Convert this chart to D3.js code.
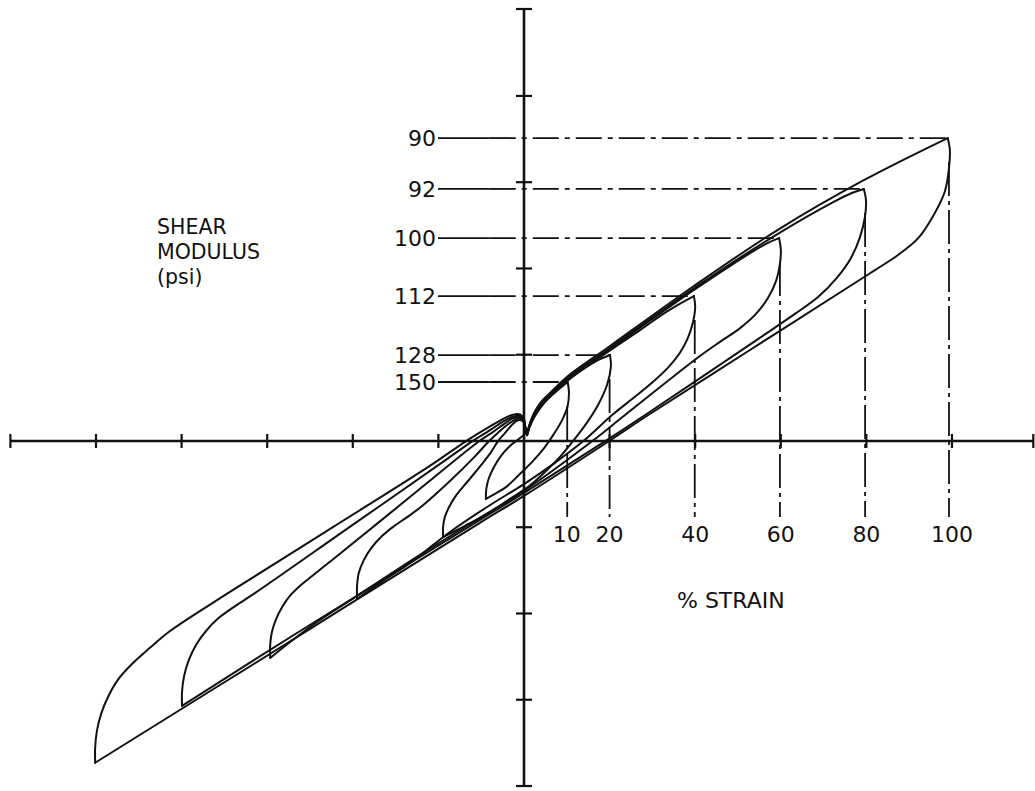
<!DOCTYPE html>
<html>
<head>
<meta charset="utf-8">
<script src="https://cdn.jsdelivr.net/npm/d3@7"></script>
<style>
  html, body { margin: 0; padding: 0; background: #fff; }
  text { font-family: "DejaVu Sans", sans-serif; fill: #111; }
</style>
</head>
<body>
<svg id="chart" width="1035" height="791"></svg>
<script>
// ── Data (strain in %, stress in psi) ─────────────────────────────

const strainTicks  = [-100, -80, -60, -40, -20, 20, 40, 60, 80, 100];
const stressTicks  = [-76.8, -51.2, -25.6, 25.6, 51.2, 76.8, 102.4];
const strainLabels = [10, 20, 40, 60, 80, 100];
const modulusLabels = [150, 128, 112, 100, 92, 90];
const tipStrain = [10.1, 20.0, 39.9, 59.8, 79.7, 99.3];
const tipStress = [17.5, 25.5, 43.0, 60.2, 74.8, 89.9];
const titleLines = ['SHEAR', 'MODULUS', '(psi)'];

// loading branches (negative tip -> positive tip)
const up10 = [[-8.9,-17.2],[-8.8,-14.2],[-8.2,-11.0],[-7.0,-7.7],[-5.4,-4.5],[-3.3,-1.5],[-1.2,0.6],[0.2,2.1],[1.2,3.9],[2.3,6.8],[4.0,10.1],[5.8,12.8],[7.9,15.1],[10.2,17.5]];
const up20 = [[-18.9,-28.5],[-18.9,-25.5],[-18.5,-22.6],[-17.5,-19.6],[-16.1,-16.6],[-14.3,-13.7],[-12.1,-10.4],[-9.8,-6.8],[-7.7,-3.3],[-6.1,-0.1],[-4.4,2.4],[-3.0,4.5],[-1.9,5.8],[-0.9,6.2],[-0.1,5.6],[0.4,3.0],[0.7,1.6],[1.2,3.9],[1.9,6.1],[3.0,8.8],[4.4,11.0],[6.8,13.9],[10.0,17.7],[14.3,21.7],[17.3,24.0],[20.1,25.5]];
const up40 = [[-39.0,-46.9],[-39.0,-43.0],[-38.6,-39.2],[-37.4,-35.3],[-35.7,-31.8],[-33.4,-28.5],[-30.6,-25.5],[-27.3,-22.6],[-23.8,-19.3],[-17.3,-11.9],[-11.4,-4.5],[-8.2,-0.1],[-6.1,2.4],[-4.2,4.5],[-2.3,6.2],[-0.9,6.7],[-0.1,5.9],[0.4,3.1],[0.7,1.8],[1.2,4.0],[1.9,6.4],[3.0,9.1],[4.4,11.4],[6.8,14.2],[10.0,18.0],[20.1,26.9],[27.1,32.9],[32.9,38.0],[37.1,41.2],[39.7,43.0]];
const up60 = [[-59.3,-64.4],[-59.3,-60.5],[-58.9,-56.7],[-57.9,-52.8],[-56.5,-49.3],[-54.7,-46.0],[-52.3,-43.0],[-49.5,-40.1],[-46.3,-36.8],[-43.0,-33.5],[-24.3,-14.2],[-10.5,-0.1],[-7.2,2.7],[-4.7,5.0],[-2.6,6.7],[-0.9,7.0],[-0.1,6.2],[0.4,3.3],[0.7,1.9],[1.2,4.2],[1.9,6.5],[3.0,9.2],[4.4,11.6],[6.8,14.5],[10.0,18.2],[20.1,27.3],[39.7,44.8],[48.1,51.9],[53.3,56.1],[57.0,58.8],[59.6,60.2]];
const up80 = [[-79.9,-78.6],[-79.9,-74.5],[-79.4,-69.7],[-78.3,-65.0],[-76.6,-60.5],[-74.3,-56.4],[-71.3,-52.5],[-67.5,-49.0],[-62.8,-45.1],[-40.7,-25.5],[-19.6,-6.8],[-12.1,-0.1],[-8.2,3.0],[-5.1,5.6],[-2.8,7.1],[-0.9,7.4],[-0.1,6.5],[0.4,3.4],[0.7,2.1],[1.2,4.3],[1.9,6.8],[3.0,9.5],[4.4,11.9],[6.8,14.8],[10.0,18.5],[20.1,27.6],[39.7,45.3],[59.6,61.7],[72.7,71.2],[76.6,73.6],[79.4,74.8]];
const up100 = [[-100.2,-95.5],[-100.2,-91.1],[-99.8,-86.1],[-98.8,-81.0],[-97.2,-76.0],[-94.9,-70.9],[-91.6,-66.2],[-87.4,-61.4],[-82.7,-56.4],[-68.7,-44.8],[-45.3,-26.1],[-22.0,-7.4],[-13.6,-0.1],[-8.9,3.6],[-5.4,6.2],[-2.8,7.7],[-0.9,7.9],[-0.1,6.8],[0.4,3.6],[0.7,2.1],[1.2,4.5],[1.9,7.1],[3.0,9.8],[4.4,12.2],[6.8,15.1],[10.0,19.0],[20.1,28.2],[39.7,46.0],[59.6,62.9],[79.4,77.4],[99.0,89.9]];

// unloading branches (positive tip -> negative tip)
const down10 = [[10.2,17.5],[10.5,14.5],[10.2,10.4],[8.9,6.2],[7.0,2.1],[4.7,-2.1],[1.9,-6.2],[-1.2,-10.1],[-4.2,-13.7],[-6.8,-15.7],[-8.9,-17.2]];
const down20 = [[20.1,25.5],[20.3,22.0],[19.4,16.6],[17.3,10.7],[14.3,4.7],[11.4,-0.1],[8.4,-4.7],[4.9,-9.2],[0.9,-13.7],[-3.3,-17.2],[-7.9,-21.1],[-13.8,-25.2],[-18.9,-28.5]];
const down40 = [[39.7,43.0],[40.0,39.8],[39.5,35.3],[38.3,30.6],[36.4,26.1],[33.6,21.7],[30.1,17.5],[26.2,13.4],[20.6,7.7],[13.8,-0.1],[7.2,-6.5],[0,-12.8],[-7.9,-19.0],[-17.3,-27.0],[-26.6,-36.2],[-33.6,-42.1],[-39.0,-46.9]];
const down60 = [[59.6,60.2],[60.0,57.0],[59.8,52.5],[58.9,47.5],[57.0,42.4],[54.2,37.7],[50.5,33.5],[45.8,29.4],[41.1,25.2],[23.6,7.7],[15.9,-0.1],[0,-14.8],[-10.3,-22.8],[-24.3,-33.8],[-39.0,-46.0],[-50.0,-55.2],[-59.3,-64.4]];
const down80 = [[79.4,74.8],[79.9,71.5],[79.7,66.8],[78.5,60.5],[76.4,54.3],[73.1,48.4],[68.7,42.7],[63.3,37.7],[55.8,31.2],[29.0,8.3],[18.9,-0.1],[0,-15.4],[-10.3,-23.4],[-52.3,-56.4],[-79.9,-78.6]];
const down100 = [[99.0,89.9],[99.5,86.4],[99.3,81.0],[98.3,73.9],[95.6,66.8],[92.1,60.2],[87.4,55.2],[82.0,50.7],[76.2,46.0],[52.8,27.0],[29.4,8.0],[19.9,0],[0,-16.3],[-10.3,-24.3],[-52.3,-57.6],[-100.2,-95.5]];

const branches = [up10, up20, up40, up60, up80, up100, down10, down20, down40, down60, down80, down100];

// ── Scales ────────────────────────────────────────────────────────

const svg = d3.select('#chart');

const x = d3.scaleLinear().domain([-120, 119]).range([10.4, 1033.3]);
const y = d3.scaleLinear().domain([-102.4, 128.2]).range([786, 9]);

const x0 = x(0), y0 = y(0);

// ── Axes (drafting lines with short cross ticks) ──────────────────

const axes = svg.append('g')
  .attr('stroke', '#111')
  .attr('fill', 'none');

axes.append('line')
  .attr('x1', x(-120)).attr('x2', x(119))
  .attr('y1', y0).attr('y2', y0)
  .attr('stroke-width', 2.6);

axes.append('line')
  .attr('x1', x0).attr('x2', x0)
  .attr('y1', y(128.2)).attr('y2', y(-102.4))
  .attr('stroke-width', 2.6);

axes.selectAll('.xtick')
  .data(strainTicks.concat([-120, 119]))
  .join('line')
  .attr('class', 'xtick')
  .attr('x1', d => x(d)).attr('x2', d => x(d))
  .attr('y1', y0 - 7).attr('y2', y0 + 7)
  .attr('stroke-width', 2.2);

axes.selectAll('.ytick')
  .data(stressTicks.concat([128.2, -102.4]))
  .join('line')
  .attr('class', 'ytick')
  .attr('x1', x0 - 8).attr('x2', x0 + 8)
  .attr('y1', d => y(d)).attr('y2', d => y(d))
  .attr('stroke-width', 2.2);

// ── Reference lines: modulus (horizontal) and strain (vertical) ───

const refs = svg.append('g')
  .attr('stroke', '#111')
  .attr('fill', 'none')
  .attr('stroke-width', 1.8);

const labelEdge = 438;
const solidTo = x(-8);

// solid lead-in from the label
refs.selectAll('.hsolid')
  .data(tipStress)
  .join('line')
  .attr('class', 'hsolid')
  .attr('x1', labelEdge).attr('x2', solidTo)
  .attr('y1', d => y(d)).attr('y2', d => y(d));

// dash-dot run to the loop tip
refs.selectAll('.hdash')
  .data(tipStress)
  .join('line')
  .attr('class', 'hdash')
  .attr('x1', solidTo).attr('x2', (d, i) => x(tipStrain[i]))
  .attr('y1', d => y(d)).attr('y2', d => y(d))
  .attr('stroke-dasharray', '26,6,5,6');

refs.selectAll('.vline')
  .data(tipStrain)
  .join('line')
  .attr('class', 'vline')
  .attr('x1', d => x(d)).attr('x2', d => x(d))
  .attr('y1', (d, i) => y(tipStress[i]) + 24)
  .attr('y2', y0 + 76)
  .attr('stroke-dasharray', '34,5,4,5');

// ── Hysteresis loops ──────────────────────────────────────────────

const line = d3.line()
  .x(d => x(d[0]))
  .y(d => y(d[1]))
  .curve(d3.curveCatmullRom.alpha(0.5));

svg.append('g')
  .selectAll('path')
  .data(branches)
  .join('path')
  .attr('d', line)
  .attr('fill', 'none')
  .attr('stroke', '#111')
  .attr('stroke-width', 2)
  .attr('stroke-linejoin', 'round')
  .attr('stroke-linecap', 'round');

// ── Text ──────────────────────────────────────────────────────────

svg.append('g')
  .selectAll('text')
  .data(modulusLabels)
  .join('text')
  .attr('x', labelEdge - 2)
  .attr('y', (d, i) => y(tipStress[i]))
  .attr('dy', '0.36em')
  .attr('text-anchor', 'end')
  .attr('font-size', 22)
  .text(d => d);

svg.append('g')
  .selectAll('text')
  .data(strainLabels)
  .join('text')
  .attr('x', d => x(d))
  .attr('y', y0 + 101)
  .attr('text-anchor', 'middle')
  .attr('font-size', 22)
  .text(d => d);

svg.append('text')
  .attr('x', 677).attr('y', 608)
  .attr('font-size', 22)
  .text('% STRAIN');

// stacked axis title, one text per line
svg.append('g')
  .selectAll('text')
  .data(titleLines)
  .join('text')
  .attr('x', 157)
  .attr('y', (d, i) => 234 + i * 25)
  .attr('font-size', 20.5)
  .text(d => d);
</script>
</body>
</html>
